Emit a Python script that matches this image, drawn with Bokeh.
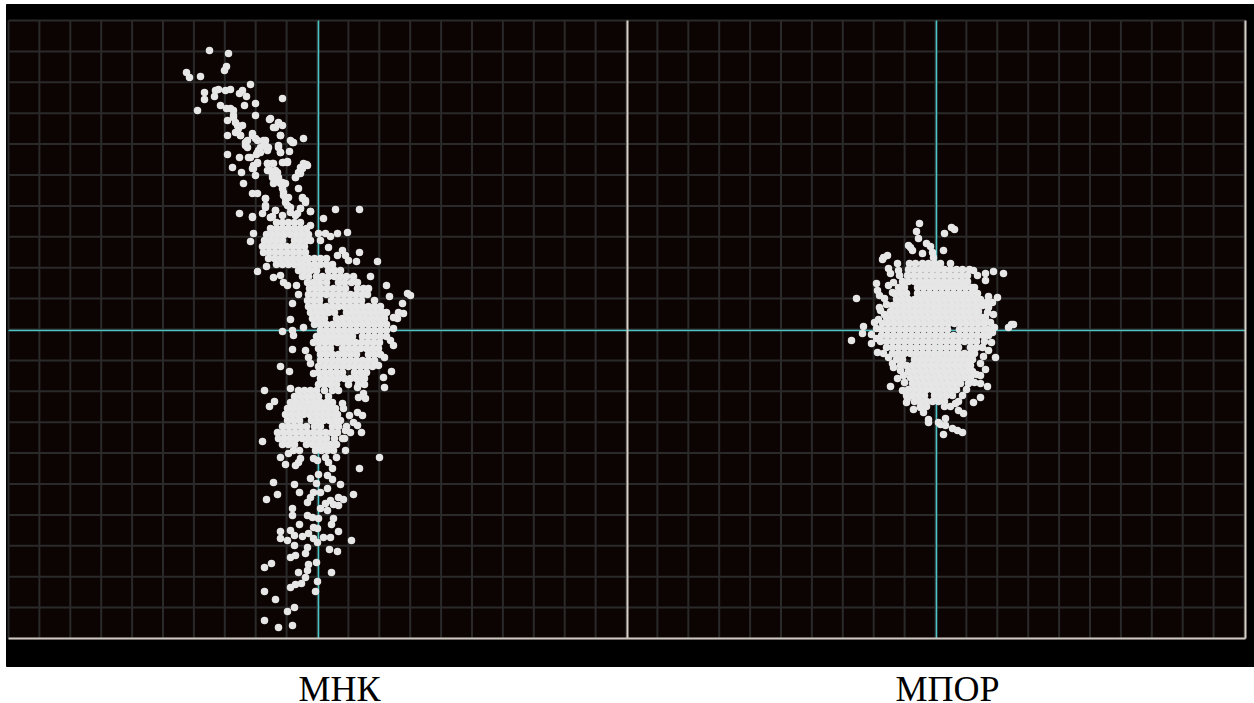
from bokeh.plotting import figure
from bokeh.models import Range1d
from bokeh.core.properties import value
from bokeh.embed import file_html
from bokeh.resources import INLINE

panel_labels = ["МНК", "МПОР"]
label_x = [21, 629]
cross_offset = 618
division = 30.9

mnk_scatter = [
 (-109,280),(-90,277),(-94,260),(-92,264),(-132,258),(-129,253),(-118,254),(-68,246),(-114,238),(-114,231),
 (-121,220),(-103,240),(-104,234),(-100,241),(-93,240),(-88,241),(-79,237),(-72,234),(-76,240),(-36,232),(-98,225),
 (-92,222),(-88,222),(-85,215),(-83,208),(-80,202),(-81,198),(-76,205),(-71,190),(-73,185),(-66,195),(-61,190),
 (-53,190),(-55,185),(-60,180),(-68,173),(-50,183),(-40,183),(-38,178),(-26,188),(-15,192),(-29,179),(-49,211),
 (-45,203),(-40,207),(-38,195),(-63,215),(-63,227),(-74,225),(-91,210),(-91,195),(-91,176),(-79,173),(-86,163),
 (-77,158),(-75,147),(-63,155),(-61,167),(-66,162),(-66,137),(-61,137),(-53,132),(-53,125),(-51,167),(-46,167),
 (-50,160),(-43,160),(-46,153),(-40,153),(-45,147),(-38,147),(-33,147),(-35,138),(-33,132),(-31,125),(-36,168),
 (-31,168),(-12,166),(-16,162),(-18,157),(-23,153),(-20,142),(-16,132),(-13,128),(-8,119),(-18,122),(-23,115),
 (-79,117),(-66,113),(-56,117),(-43,120),(-48,113),(5,112),(-28,118),(-36,115),(-58,178),(-62,176),(-78,195),
 (-66,114),(-46,114),(17,121),(41,121),(-8,119),(29,98),(19,97),(12,94),(7,97),(0,97),(2,90),(10,83),(-8,105),
 (41,78),(24,80),(27,75),(19,75),(30,70),(38,69),(59,69),(-65,97),(-68,89),(-52,64),(-61,59),(-45,53),(-38,55),
 (-35,48),(-31,45),(-22,45),(-20,36),(-26,27),(-28,11),(-36,-1),(-26,0),(-25,-5),(-15,3),(-26,-19),(-38,-36),
 (-29,-41),(-54,-60),(-28,-58),(-13,-20),(-10,-27),(-8,-33),(-5,-43),(52,54),(68,45),(89,37),(92,35),(71,34),
 (84,27),(80,18),(85,17),(75,13),(79,12),(75,2),(72,-10),(75,-15),(66,-27),(73,-41),(65,-47),(66,-57),(60,-35),
 (39,-57),(45,-63),(40,-67),(47,-68),(24,-73),(25,-78),(31,-85),(39,-82),(44,-85),(35,-92),(39,-95),(43,-102),
 (27,-100),(24,-108),(-44,-71),(-49,-76),(-56,-111),(-38,-127),(-33,-134),(-30,-123),(-20,-132),(-23,-135),
 (-18,-128),(61,-127),(41,-138),(27,-120),(18,-127),(-5,-128),(-1,-130),(7,-127),(10,-132),(14,-138),(-45,-152),
 (-24,-154),(-41,-164),(-52,-169),(-19,-162),(-8,-148),(0,-144),(9,-145),(14,-149),(22,-154),(-2,-153),(9,-158),
 (35,-164),(-5,-162),(-8,-167),(-11,-172),(2,-162),(20,-167),(25,-169),(20,-175),(12,-170),(7,-173),(2,-178),
 (9,-180),(15,-174),(-26,-178),(-26,-185),(-11,-185),(-6,-187),(0,-188),(15,-188),(13,-194),(-19,-194),(-38,-201),
 (-38,-208),(-31,-210),(-28,-200),(-24,-205),(-16,-206),(-10,-203),(-5,-197),(-1,-198),(-5,-208),(-1,-212),
 (5,-207),(12,-207),(20,-201),(33,-210),(-24,-215),(-11,-217),(11,-219),(19,-221),(-28,-227),(-23,-225),(-13,-223),
 (-47,-233),(-54,-237),(-2,-232),(-10,-234),(-20,-242),(-11,-240),(13,-242),(-13,-247),(-17,-253),(-23,-254),
 (-28,-257),(-1,-251),(-54,-261),(-43,-269),(-3,-261),(-24,-277),(-31,-281),(-54,-290),(-40,-297),(-26,-295),
 (-85,220),(-85,213),(-81,205),(-83,198),(-78,195),(-73,188),(-71,183),(-66,197),(-63,192),(-55,190),(-58,183),
 (-61,178),(-51,180),(-53,185),(-40,185),(-38,178),(-70,173),(-65,165),(-61,168),(-51,167),(-48,160),(-51,160),
 (-45,167),(-46,155),(-43,150),(-41,158),(-36,148),(-36,142),(-35,135),(-30,133),(-33,128),(-28,123),(-18,163),
 (-20,158),(-23,153),(-15,167),(-11,165),(-16,133),(-13,130),(-18,122),(-21,117),(-53,132),(-53,123),(-43,120),
 (-48,113),(-35,168),(-31,169),(-65,162),(-28,190),(-25,188),(-48,212),(-43,203),(-40,208),(-36,205),(-38,195),
]

mnk_rows = [
 (108,[-42,-36,-30,-24,-18]),
 (102,[-48,-42,-36,-30,-24,-18,-12]),
 (96,[-52,-46,-40,-34,-28,-22,-16,-10]),
 (90,[-54,-48,-42,-36,-24,-18,-12,-8]),
 (84,[-56,-50,-44,-38,-32,-26,-20,-14]),
 (78,[-55,-49,-43,-37,-31,-25,-19,-13]),
 (72,[-50,-44,-38,-32,-26,-20,-14,-10,-4,2,8]),
 (66,[-42,-36,-30,-24,-18,-16,-10,-4,2,8,14]),
 (60,[-20,-14,-8,-2,10,16,22]),
 (54,[-16,-10,-2,4,10,16,22,28,35]),
 (48,[-11,-5,1,8,20,26,33,39]),
 (42,[-9,-3,3,9,15,21,27,39,45,50]),
 (36,[-10,-4,2,8,14,20,26,32,38,44,49]),
 (30,[-11,-5,1,13,19,25,31,37,43,56]),
 (24,[-10,-4,2,8,14,20,26,32,38,44,50,56,62]),
 (18,[-8,-2,4,10,16,28,34,40,46,52,58,64,68]),
 (12,[-6,0,6,18,24,30,36,42,48,54,60,66]),
 (6,[-4,2,8,14,20,26,32,38,44,50,56,62,68]),
 (0,[2,8,14,20,26,32,38,44,50,56,62,68]),
 (-6,[-2,4,10,16,22,28,34,44,50,56,62,68]),
 (-12,[-5,1,7,13,19,25,31,37,43,49,55,61]),
 (-18,[0,6,12,24,30,36,42,48,54,60]),
 (-24,[2,8,14,20,26,32,38,50,56,62]),
 (-30,[2,8,14,20,26,32,38,44,50,56]),
 (-36,[0,6,12,18,24,30,36,42,48,54]),
 (-42,[0,6,12,18,24,36,42,48]),
 (-48,[2,8,14,20,26,32,38,44,46]),
 (-54,[0,6,12,18,30,40,46]),
 (-60,[-20,-14,-8,-2,6,14,20]),
 (-66,[-24,-18,-12,-6,0,10]),
 (-72,[-28,-22,-16,-10,-4,2,8,14]),
 (-78,[-31,-25,-19,-13,-7,-1,5,11,17]),
 (-84,[-33,-27,-21,-15,-9,-3,3,9,15,19]),
 (-90,[-31,-25,-19,-7,-1,5,11,17,22]),
 (-96,[-36,-30,-24,-18,-12,-4,2,14,20,28]),
 (-102,[-41,-35,-29,-23,-17,-11,-5,1,7,13,19,32]),
 (-108,[-40,-34,-28,-22,-16,-10,-4,2,8,16,26]),
 (-114,[-36,-30,-24,-12,-6,0,6,12,18]),
 (-120,[-25,-19,-3,3,9,15]),
]

mpor_scatter = [
 (-17,107),(-20,99),(-18,92),(15,103),(18,101),(8,97),(-10,87),(-6,84),(-4,78),(-3,73),(-26,83),(-24,80),(-28,85),
 (-14,77),(7,80),(-53,73),(-49,75),(-54,71),(-48,62),(-46,57),(-39,67),(-38,60),(-37,55),(-60,47),(-59,40),(-57,35),
 (-43,48),(-48,45),(-80,32),(-57,23),(-56,20),(-62,8),(-73,4),(-74,-3),(-65,-4),(-65,-13),(-85,-10),(67,57),(57,59),
 (49,57),(37,60),(41,55),(49,50),(61,33),(56,28),(52,23),(51,18),(57,16),(49,13),(77,6),(72,3),(75,6),(58,3),
 (59,-27),(49,-39),(44,-45),(44,-53),(51,-56),(44,-67),(37,-72),(-46,-56),(-39,-48),(-33,-45),(-59,-22),(-53,-23),
 (-48,-27),(-44,-33),(-43,-37),(-23,-79),(-16,-77),(-13,-82),(-8,-89),(-8,-92),(27,-83),(22,-80),(19,-73),(9,-88),
 (2,-92),(4,-94),(9,-95),(16,-98),(26,-102),(7,-104),(21,-100),(-29,-68),
 (-52,32),(-50,26),(-52,16),(-58,11),(-60,2),(-60,-8),(-44,38),(52,34),(50,28),(54,8),(56,-2),(55,-12),(52,-20),
 (47,-26),(44,-33),(40,-44),(38,-52),(-36,-40),(-32,-52),(-34,-60),(-30,-72),
]

mpor_rows = [
 (67,[-27,-21,-14,-8,-2,4,14]),
 (61,[-28,-22,-16,-10,-4,2,8,14,20,26,33]),
 (55,[-29,-23,-17,-11,-5,1,7,13,19,25,31]),
 (49,[-34,-28,-22,-16,-10,-4,2,8,14,20,26,31]),
 (43,[-38,-32,-19,-13,-7,-1,5,11,17,23,29,35,38]),
 (37,[-42,-36,-30,-19,-13,-7,-1,5,11,17,23,29,35,41]),
 (31,[-40,-34,-28,-22,-16,-10,-4,2,8,14,20,26,32,38,44]),
 (25,[-44,-38,-32,-26,-20,-14,-8,-2,4,10,16,22,28,34,40,46]),
 (19,[-46,-40,-34,-28,-22,-16,-10,-4,2,8,14,20,26,32,38,42]),
 (13,[-50,-44,-38,-32,-26,-20,-14,-8,-2,4,10,16,22,28,34,40,46]),
 (7,[-54,-48,-42,-36,-30,-24,-18,-12,-6,0,6,12,18,24,30,36,42,48]),
 (1,[-55,-49,-43,-37,-31,-25,-19,-13,-7,-1,5,11,23,29,35,41,47,52]),
 (-5,[-55,-49,-43,-37,-31,-25,-19,-13,-7,-1,5,11,17,23,29,35,41,47,52]),
 (-11,[-56,-50,-44,-38,-32,-26,-20,-14,-8,-2,4,10,16,22,28,34,40,48]),
 (-17,[-50,-44,-38,-32,-26,-20,-14,-8,-2,4,10,16,22,34,40,46]),
 (-23,[-44,-38,-32,-26,-20,-14,-8,-2,4,10,16,22,28,34,38]),
 (-29,[-40,-34,-22,-16,-10,-4,2,8,14,20,26,32,36]),
 (-35,[-36,-30,-24,-18,-12,-6,0,6,12,18,24,30,34]),
 (-41,[-28,-22,-16,-10,-4,2,8,14,20,26,32,36]),
 (-47,[-26,-20,-14,-8,-2,4,10,16,22,28,34]),
 (-53,[-24,-18,-12,-6,0,6,12,18,24,32]),
 (-59,[-28,-22,-16,-10,-4,2,8,14,20,30]),
 (-65,[-30,-24,-18,-12,-2,4,10,16,26]),
 (-71,[-22,-16,-10,-4,2,8,22]),
 (-76,[-16,-10,8,14]),
]


def pairs(scatter, rows):
    xs = [a for a, _ in scatter]
    ys = [b for _, b in scatter]
    for y, row in rows:
        xs += row
        ys += [y] * len(row)
    return xs, ys


p = figure(width=1254, height=703, x_range=Range1d(-318, 936), y_range=Range1d(-373, 330),
           output_backend="svg", toolbar_location=None, min_border=0,
           background_fill_color="white", border_fill_color="white")
p.axis.visible = False
p.grid.visible = False
p.outline_line_color = None

left, right, top, bottom = -310, 927, 310, -308
p.quad(left=-312, right=936, top=326, bottom=-336, color="#000000")
p.quad(left=left, right=right, top=top, bottom=bottom, color="#0c0402")

vx = [left + division * k for k in range(41)]
hy = [top - division * k for k in range(21)]
p.segment(x0=vx, x1=vx, y0=top, y1=bottom, line_color="#2a2a2a", line_width=2)
p.segment(x0=left, x1=right, y0=hy, y1=hy, line_color="#2a2a2a", line_width=2)

p.segment(x0=[0, cross_offset], x1=[0, cross_offset], y0=top, y1=bottom, line_color="#4cc4c4", line_width=1.6)
p.segment(x0=left, x1=right, y0=0, y1=0, line_color="#4cc4c4", line_width=1.6)
p.segment(x0=[309, right], x1=[309, right], y0=top, y1=bottom, line_color="#d8d0c8", line_width=2)
p.segment(x0=left, x1=right, y0=bottom, y1=bottom, line_color="#d0c8c0", line_width=2)

mx, my = pairs(mnk_scatter, mnk_rows)
rx, ry = pairs(mpor_scatter, mpor_rows)
p.scatter(mx, my, size=7.5, color="#e6e6e6", line_color=None)
p.scatter([x + cross_offset for x in rx], ry, size=7.5, color="#e6e6e6", line_color=None)

p.text(x=label_x, y=[-358, -358], text=panel_labels, text_font=value("Liberation Serif"),
       text_font_size="36px", text_align="center", text_baseline="alphabetic", text_color="#000000")

open("out.html", "w").write(file_html(p, INLINE))
